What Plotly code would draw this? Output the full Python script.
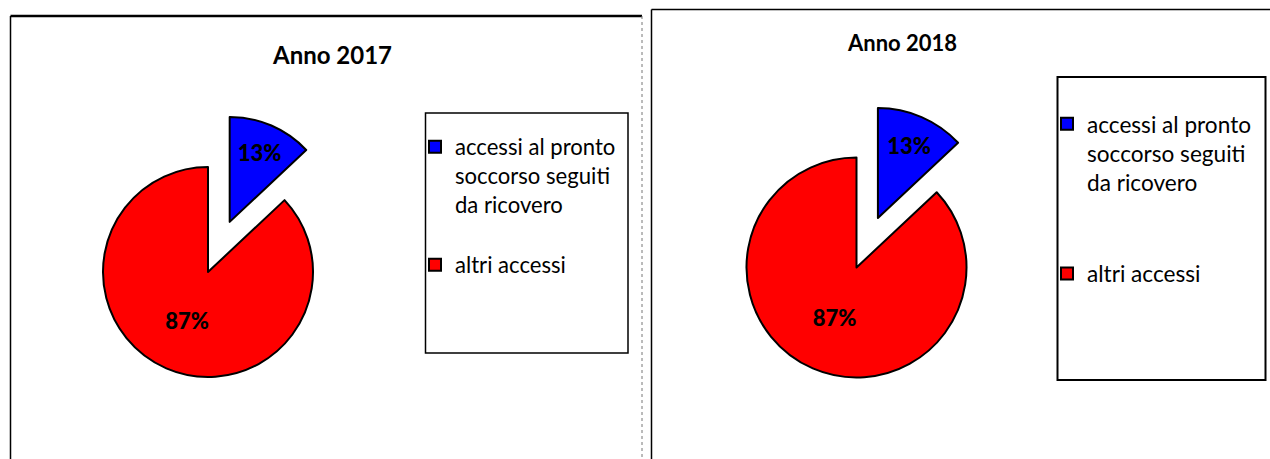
import plotly.graph_objects as go

W, H = 1270, 459

# ---- data ----
categories = ["accessi al pronto<br>soccorso seguiti<br>da ricovero", "altri accessi"]
values_2017 = [13, 87]
values_2018 = [13, 87]
titles = ["Anno 2017", "Anno 2018"]
colors = ["#0000FF", "#FF0000"]

# legend labels with blank spacer lines (as in the reference legends)
labels_2017 = [categories[0] + "<br> ", categories[1]]
labels_2018 = [categories[0] + "<br> <br> ", categories[1]]

FONT = "Lato, 'Open Sans', sans-serif"
FONT_HEAVY = "'Lato Black', 'Lato Heavy', 'DejaVu Sans', sans-serif"


def px(x):
    return x / W


def py(y):
    return 1 - y / H


def pie_domain(cx, cy, r, pull):
    half = r * (1 + pull)
    return dict(x=[px(cx - half), px(cx + half)], y=[py(cy + half), py(cy - half)])


fig = go.Figure()

pies = [
    (labels_2017, values_2017, (208, 272, 105, 0.52), "legend", "g2017"),
    (labels_2018, values_2018, (856.5, 267.5, 110, 0.49), "legend2", "g2018"),
]
for labs, vals, (cx, cy, r, pull), lg, grp in pies:
    fig.add_trace(go.Pie(
        labels=labs,
        values=vals,
        sort=False,
        direction="clockwise",
        rotation=0,
        pull=[pull, 0],
        domain=pie_domain(cx, cy, r, pull),
        marker=dict(colors=colors, line=dict(color="black", width=2)),
        texttemplate="<b>%{percent:.0%}</b>",
        textposition="inside",
        insidetextorientation="horizontal",
        textfont=dict(family=FONT_HEAVY, size=22, color="black", weight="bold"),
        insidetextfont=dict(family=FONT_HEAVY, size=22, color="black", weight="bold"),
        legend=lg,
        legendgroup=grp,
        hoverinfo="percent",
    ))

shapes = []
# left panel frame
shapes.append(dict(type="line", xref="paper", yref="paper", x0=px(10.5), x1=px(642), y0=py(16), y1=py(16), line=dict(color="black", width=2.5)))
shapes.append(dict(type="line", xref="paper", yref="paper", x0=px(10.5), x1=px(10.5), y0=py(16), y1=py(470), line=dict(color="black", width=1.5)))
shapes.append(dict(type="line", xref="paper", yref="paper", x0=px(642), x1=px(642), y0=py(16), y1=py(470), line=dict(color="#777777", width=1, dash="dot")))
# right panel frame
shapes.append(dict(type="line", xref="paper", yref="paper", x0=px(651.5), x1=px(1275), y0=py(9.5), y1=py(9.5), line=dict(color="black", width=1.5)))
shapes.append(dict(type="line", xref="paper", yref="paper", x0=px(651.5), x1=px(651.5), y0=py(9.5), y1=py(470), line=dict(color="black", width=1.5)))
# legend boxes
shapes.append(dict(type="rect", xref="paper", yref="paper", x0=px(425.5), x1=px(628), y0=py(113), y1=py(353), line=dict(color="black", width=1.5)))
shapes.append(dict(type="rect", xref="paper", yref="paper", x0=px(1057.5), x1=px(1265.5), y0=py(77), y1=py(380), line=dict(color="black", width=2)))

annotations = [
    dict(text=titles[0], x=px(332), y=py(55), xref="paper", yref="paper", showarrow=False,
         xanchor="center", yanchor="middle", font=dict(family=FONT, size=24, color="black", weight="bold")),
    dict(text=titles[1], x=px(902), y=py(42), xref="paper", yref="paper", showarrow=False,
         xanchor="center", yanchor="middle", font=dict(family=FONT, size=22, color="black", weight="bold")),
]

leg_common = dict(bgcolor="rgba(0,0,0,0)", borderwidth=0, valign="top",
                  xanchor="left", yanchor="top", itemclick=False, itemdoubleclick=False)

fig.update_layout(
    width=W, height=H,
    margin=dict(l=0, r=0, t=0, b=0),
    paper_bgcolor="white",
    plot_bgcolor="white",
    showlegend=True,
    legend=dict(x=px(415), y=py(126), font=dict(family=FONT, size=22.1, color="black"), **leg_common),
    legend2=dict(x=px(1047), y=py(102.5), font=dict(family=FONT, size=22.6, color="black"), **leg_common),
    shapes=shapes,
    annotations=annotations,
)

fig.write_html("out.html")
